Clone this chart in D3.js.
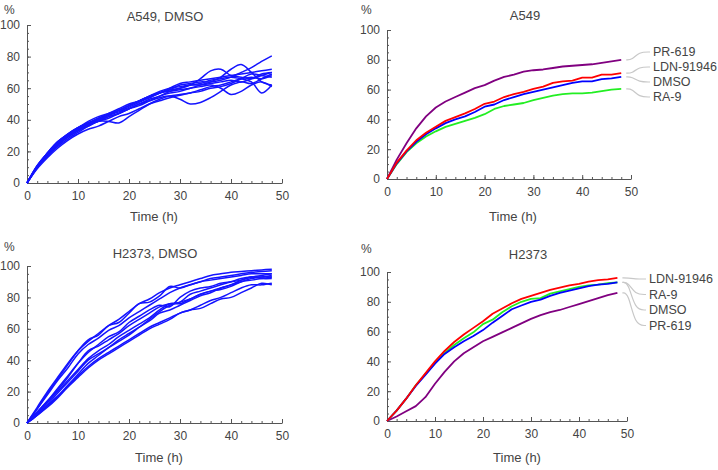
<!DOCTYPE html>
<html><head><meta charset="utf-8">
<script src="https://cdn.jsdelivr.net/npm/d3@7"></script>
<style>
body{margin:0;background:#fff;}
svg text{font-family:Arial,"Liberation Sans",sans-serif;fill:#444;font-weight:400;}
</style></head>
<body><svg id="c" width="718" height="470"></svg>
<script>
// ---------- DATA ----------
const hours = [0,2,4,6,8,10,12,14,16,18,20,22,24,26,28,30,32,34,36,38,40,42,44,46,48];
const xTicks = [0,10,20,30,40,50];
const yTicks = [0,20,40,60,80,100];

// A549, DMSO replicate wells
const a549Wells = [
  [0,11,19,26,31,35,38,41,43,46,49,52,54,57,59,62,63,64,64,65,67,70,73,77,80.5],
  [0,10,18,25,30,34,37,40,43,45,48,51,54,57,59,60,62,66,71,72,68,67,66,68,70],
  [0,10,18,24,29,33,37,39,42,44,47,49,52,55,57,58,60,62,64,67,72,75,70,64,62],
  [0,10,18,24,29,33,36,39,41,44,47,50,52,54,55,53,50,51,54,58,62,64,63,66,69],
  [0,10,17,23,28,32,36,39,39,38,42,46,50,53,55,56,57,59,61,62,64,66,67,66,68],
  [0,11,19,26,31,35,38,41,44,47,50,52,55,57,58,59,60,61,62,60,56,58,62,64,61],
  [0,10,18,25,30,34,37,40,43,46,49,52,55,58,60,61,62,63,65,66,67,66,64,57,62],
  [0,11,19,26,31,35,39,42,44,46,49,52,55,57,60,63,64,65,66,67,68,69,70,71,72],
  [0,10,18,25,30,34,38,40,42,44,47,50,53,55,58,60,62,62,63,64,65,64,66,69,70],
  [0,9,16,22,27,31,34,36,39,42,44,47,50,52,54,55.5,57,58,60,61,63,66,69,68,67]
];
// H2373, DMSO replicate wells
const h2373Wells = [
  [0,10,20,29,38,46,52,57,62,66,71,76,79,83,86,88,90,92,94,95,96,96.5,97,97.5,98],
  [0,9,19,28,37,46,53,56,62,64,70,76,77,81,87,86,88,90,92,93,94,95,96,96.5,97],
  [0,9,18,27,35,44,50,54,59,62,67,71,75,79,83,86,88,90,91,92,93,94,95,95,95],
  [0,7,14,21,29,38,46,49,53,57,62,66,70,74,76,77,82,84,86,88,90,92,93,93,94],
  [0,6,13,20,27,34,41,46,50,55,59,63,67,72,76,76,79,82,84,85,87,90,91,92,93],
  [0,5,11,17,24,31,38,43,48,53,57,61,65,70,72,75,78,81,83,86,88,91,93,92,92],
  [0,5,11,17,23,30,36,41,45,49,53,57,61,64,67,70,72,75,78,80,83,86,88,88,89],
  [0,5,10,16,23,29,35,40,44,48,52,56,60,63,66,70,72,73,76,79,80,83,86,89,88],
  [0,7,14,22,30,38,45,50,55,58,64,68,72,75,74,80,84,86,87,89,90,91,93,94,95],
  [0,6,12,19,26,33,40,44,48,52,56,61,66,71,75,77,79,82,84,86,88,90,92,93,93]
];

// Treatment means
const treatColors = {"PR-619":"#800080","LDN-91946":"#ff0000","DMSO":"#0000ff","RA-9":"#22ee22"};
const a549PR619 = [0,13,24,34,42,48,52,55,58,61,63,66,68.5,70,72,73,73.5,74.5,75.5,76,76.5,77,78,79,80];
const a549LDN   = [0,11,19,26,31,35,39,41.5,44,47,50.5,52,55,57,58.5,60.5,62,64.5,65.5,66,68,68,70,70,71];
const a549DMSO  = [0,10.5,18.5,25,30,34,37.5,40,42,45,48.5,50,53,55,57,58.5,60,61.5,63,64.5,65.5,65.5,67,67.5,68.5];
const a549RA9   = [0,10,18,24,28.5,32,35,37,39,41,43.5,47,49,50,51,53,54.5,56,57,57.5,57.5,58,59,60,60.5];

const h2373PR619 = [0,3,6.5,10,16,25,33,40,45.5,49.5,53.5,56.5,59.5,62.5,65.5,68.5,71,73,74.5,76.5,78.5,80.5,82.5,84.5,86];
const h2373LDN   = [0,7,15,24,32,40,47,53,58,62.5,67,72,75.5,79,82,84,86,88,89.5,91,92,93.5,94.5,95,96];
const h2373DMSO  = [0,7,15,23.5,31,38.5,45,49.5,53.5,57,61,66,70.5,75,77.5,80,81.5,84,86,87.5,89,90.5,91.5,92,93];
const h2373RA9   = [0,7,15,24,31.5,39,45.5,51,55.5,59.5,65,68,73,77,80,82,82.5,85.5,87,88.5,90,91,91.5,92.5,93];

const a549Labels = ["PR-619","LDN-91946","DMSO","RA-9"];
const h2373Labels = ["LDN-91946","RA-9","DMSO","PR-619"];

// ---------- DRAW ----------
const svg = d3.select("#c");

function panel(cfg){
  const g = svg.append("g");
  const x = d3.scaleLinear().domain([0,50]).range([cfg.x0,cfg.x1]);
  const y = d3.scaleLinear().domain([0,100]).range([cfg.y0,cfg.y1]);

  g.append("g").attr("transform",`translate(0,${cfg.y0})`)
    .call(d3.axisBottom(x).tickValues(d3.range(0,51,2)).tickSize(-2).tickSizeOuter(0).tickFormat(""))
    .call(a=>a.select(".domain").remove());
  g.append("g").attr("transform",`translate(${cfg.x0},0)`)
    .call(d3.axisLeft(y).tickValues(d3.range(0,101,5)).tickSize(-2).tickSizeOuter(0).tickFormat(""))
    .call(a=>a.select(".domain").remove());
  const xa = g.append("g").attr("transform",`translate(0,${cfg.y0})`)
    .call(d3.axisBottom(x).tickValues(xTicks).tickSize(-4).tickSizeOuter(0).tickPadding(6));
  const ya = g.append("g").attr("transform",`translate(${cfg.x0},0)`)
    .call(d3.axisLeft(y).tickValues(yTicks).tickSize(-4).tickSizeOuter(0).tickPadding(7));
  g.selectAll(".tick line, .domain").attr("stroke","#555").attr("stroke-width",1);
  xa.selectAll("text").attr("font-size",12).attr("dy","0.95em");
  ya.selectAll("text").attr("font-size",12);
  g.selectAll(".tick text").attr("fill","#444").style("font-family","Arial,'Liberation Sans',sans-serif");

  g.append("text").attr("x",cfg.titleX).attr("y",cfg.titleY).attr("text-anchor","middle")
    .attr("font-size",13).text(cfg.title);
  g.append("text").attr("x",cfg.pctX).attr("y",cfg.pctY).attr("font-size",12).text("%");
  g.append("text").attr("x",cfg.timeX).attr("y",cfg.timeY).attr("text-anchor","middle")
    .attr("font-size",13).text("Time (h)");

  return {g,x,y};
}

function wellPanel(cfg, wells){
  const {g,x,y} = panel(cfg);
  const line = d3.line().x((d,i)=>x(hours[i])).y(d=>y(d)).curve(d3.curveCatmullRom.alpha(0.5));
  g.selectAll("path.w").data(wells).join("path").attr("class","w")
    .attr("d",line).attr("fill","none").attr("stroke","#1414ff").attr("stroke-width",1.5);
}

function treatPanel(cfg, series, labelOrder){
  const {g,x,y} = panel(cfg);
  const line = d3.line().x((d,i)=>x(hours[i])).y(d=>y(d));
  const draw = ["PR-619","RA-9","DMSO","LDN-91946"];
  draw.forEach(n=>{
    g.append("path").attr("d",line(series[n])).attr("fill","none")
      .attr("stroke",treatColors[n]).attr("stroke-width",1.8).attr("stroke-linejoin","round");
  });
  labelOrder.forEach((n,i)=>{
    const v = series[n][series[n].length-1];
    const ex = x(hours[hours.length-1]) + cfg.connGap;
    const ey = y(v);
    const ly = cfg.labelTop + i*cfg.labelStep;
    const lx = cfg.labelX;
    g.append("path")
      .attr("d",d3.line().curve(d3.curveBasis)([[ex,ey],[ex+6,ey],[lx-14,ly],[lx-3,ly]]))
      .attr("fill","none").attr("stroke","#c8c8c8").attr("stroke-width",1.2);
    g.append("text").attr("x",lx).attr("y",ly).attr("dy","0.35em").attr("font-size",12.5).text(n);
  });
}

wellPanel({x0:27,x1:282,y0:183,y1:25,title:"A549, DMSO",titleX:165,titleY:21,pctX:4,pctY:14,timeX:154,timeY:221}, a549Wells);
wellPanel({x0:27,x1:282,y0:423,y1:266,title:"H2373, DMSO",titleX:155,titleY:258,pctX:4,pctY:251,timeX:159,timeY:462}, h2373Wells);

treatPanel({x0:387,x1:631,y0:179,y1:30,title:"A549",titleX:525,titleY:20,pctX:361,pctY:14,timeX:513,timeY:221,
  connGap:5,labelX:653,labelTop:52,labelStep:15},
  {"PR-619":a549PR619,"LDN-91946":a549LDN,"DMSO":a549DMSO,"RA-9":a549RA9}, a549Labels);
treatPanel({x0:387,x1:627,y0:421,y1:272,title:"H2373",titleX:528,titleY:259,pctX:361,pctY:253,timeX:517,timeY:462,
  connGap:5,labelX:649,labelTop:279,labelStep:15.5},
  {"PR-619":h2373PR619,"LDN-91946":h2373LDN,"DMSO":h2373DMSO,"RA-9":h2373RA9}, h2373Labels);
</script>
</body></html>
